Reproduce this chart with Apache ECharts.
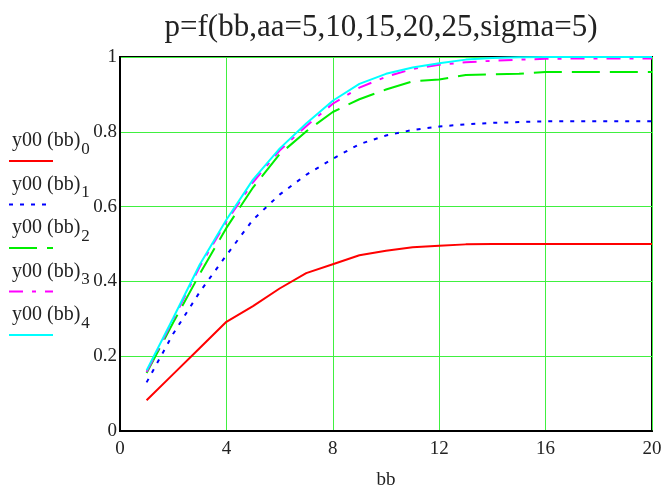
<!DOCTYPE html>
<html>
<head>
<meta charset="utf-8">
<script src="https://cdn.jsdelivr.net/npm/echarts@6/dist/echarts.min.js"></script>
<style>
  html, body { margin: 0; padding: 0; background: #fff; }
  #chart { width: 667px; height: 487px; }
</style>
</head>
<body>
<div id="chart"></div>
<script>
// 数据
const bb = [1, 2, 3, 4, 5, 6, 7, 8, 9, 10, 11, 12, 13, 14, 15, 16, 17, 18, 19, 20];
const y0 = [0.082, 0.152, 0.222, 0.292, 0.334, 0.381, 0.422, 0.446, 0.470, 0.482, 0.491, 0.495, 0.499, 0.500, 0.500, 0.500, 0.500, 0.500, 0.500, 0.500];
const y1 = [0.130, 0.260, 0.372, 0.470, 0.565, 0.632, 0.685, 0.728, 0.767, 0.790, 0.805, 0.814, 0.820, 0.824, 0.826, 0.828, 0.828, 0.828, 0.828, 0.828];
const y2 = [0.155, 0.290, 0.420, 0.543, 0.651, 0.740, 0.801, 0.853, 0.887, 0.913, 0.935, 0.940, 0.952, 0.954, 0.955, 0.960, 0.960, 0.960, 0.960, 0.960];
const y3 = [0.158, 0.298, 0.440, 0.560, 0.665, 0.750, 0.815, 0.875, 0.918, 0.947, 0.968, 0.979, 0.986, 0.990, 0.993, 0.995, 0.996, 0.996, 0.996, 0.996];
const y4 = [0.162, 0.302, 0.445, 0.565, 0.672, 0.755, 0.822, 0.883, 0.928, 0.955, 0.972, 0.983, 0.993, 0.997, 0.999, 1.000, 1.000, 1.000, 1.000, 1.000];
const seriesData = [y0, y1, y2, y3, y4];
const colors = ['#ff0000', '#0000ff', '#00ee00', '#ff00ff', '#00ffff'];
const dashes = ['solid', [4, 7], [28, 10], [14, 9, 4, 9], 'solid'];
const titleText = 'p=f(bb,aa=5,10,15,20,25,sigma=5)';

const serif = '"Liberation Serif", "Times New Roman", serif';
const chart = echarts.init(document.getElementById('chart'));

// 左侧图例：文字在上，线样在下
const legendGraphics = [];
seriesData.forEach(function (d, i) {
  const top = 131 + 43.5 * i;
  legendGraphics.push({
    type: 'text',
    left: 12,
    top: top,
    style: {
      text: '{a|y00 (bb)}{s|' + i + '}',
      rich: {
        a: { fontFamily: serif, fontSize: 20, fill: '#222', verticalAlign: 'bottom', lineHeight: 22 },
        s: { fontFamily: serif, fontSize: 17, fill: '#222', verticalAlign: 'bottom', lineHeight: 22, padding: [0, 0, -7, 1] }
      }
    }
  });
  legendGraphics.push({
    type: 'line',
    shape: { x1: 9, y1: top + 30, x2: 53, y2: top + 30 },
    style: { stroke: colors[i], lineWidth: 2, lineDash: dashes[i] === 'solid' ? null : dashes[i] }
  });
});

const option = {
  backgroundColor: '#fff',
  animation: false,
  title: {
    text: titleText,
    left: 376,
    top: 7,
    textAlign: 'center',
    textStyle: { fontFamily: serif, fontSize: 31, fontWeight: 'normal', color: '#222' }
  },
  grid: {
    left: 120, right: 15, top: 57, bottom: 56,
    outerBoundsMode: 'none',
    containLabel: false,
    show: true, borderColor: '#000', borderWidth: 2
  },
  xAxis: {
    type: 'value',
    min: 0, max: 20, interval: 4,
    name: 'bb',
    nameLocation: 'middle',
    nameGap: 40,
    nameTextStyle: { fontFamily: serif, fontSize: 19, color: '#222' },
    axisLine: { lineStyle: { color: '#000', width: 2 } },
    axisTick: { show: false },
    axisLabel: { fontFamily: serif, fontSize: 19, color: '#222', margin: 9 },
    splitLine: { lineStyle: { color: '#40f040', width: 1 } }
  },
  yAxis: {
    type: 'value',
    min: 0, max: 1, interval: 0.2,
    axisLine: { show: true, lineStyle: { color: '#000', width: 2 } },
    axisTick: { show: false },
    axisLabel: { fontFamily: serif, fontSize: 19, color: '#222', margin: 3 },
    splitLine: { lineStyle: { color: '#40f040', width: 1 } }
  },
  graphic: legendGraphics,
  series: seriesData.map(function (d, i) {
    return {
      name: 'y00(bb)' + i,
      type: 'line',
      data: bb.map(function (x, k) { return [x, d[k]]; }),
      showSymbol: false,
      smooth: false,
      lineStyle: { color: colors[i], width: 2, type: dashes[i] },
      z: 2 + i
    };
  })
};
chart.setOption(option);
</script>
</body>
</html>
